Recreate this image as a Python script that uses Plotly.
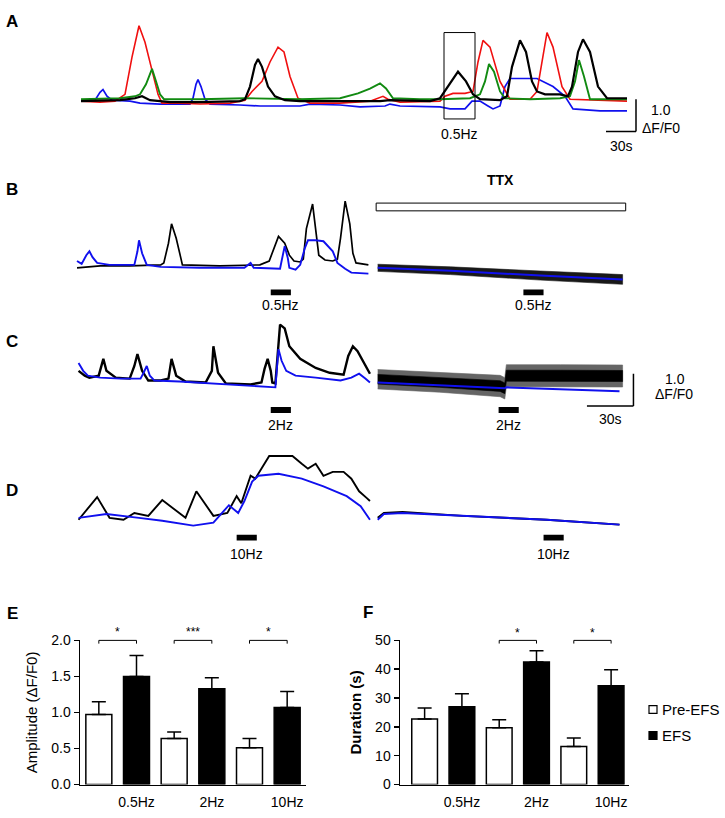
import plotly.graph_objects as go

W, H = 725, 818
FONT = "Liberation Sans, Arial, sans-serif"
BLUE, RED, GREEN, BLACK = "#1010ee", "#f01010", "#118a11", "#000000"

# ---------------- Panel A: spontaneous Ca2+ transients (time s, ΔF/F0) ----------------
a_red_t = [0, 19, 34, 44, 51, 58, 64, 71, 77, 81, 99, 119, 149, 164, 171, 181, 189, 197, 203, 209,
           217, 229, 259, 289, 297, 302, 307, 319, 359, 364, 372, 384, 392, 397, 402, 409, 419, 429, 449, 456,
           461, 466, 472, 481, 489, 519, 546]
a_red_v = [0, -0.03, 0, 0.21, 1.36, 2.33, 1.82, 0.91, 0.21, -0.06, -0.06, -0.09, -0.06, 0.03, 0.30, 0.61, 1.21, 1.67, 1.52, 0.76,
           0.09, -0.06, -0.06, 0, 0.09, 0.15, 0.06, -0.03, 0, 0.15, 0.24, 0.24, 0.30, 1.21, 1.88, 1.67, 0.61, 0.06, 0.06, 0.30,
           1.21, 2.12, 1.67, 0.45, 0.06, 0.03, 0]
a_green_t = [0, 39, 54, 59, 65, 71, 75, 79, 83, 119, 164, 219, 259, 277, 289, 299, 305, 312, 339, 359,
             389, 399, 404, 408, 413, 419, 424, 449, 479, 489, 494, 498, 503, 509, 546]
a_green_v = [0.06, 0.09, 0.15, 0.21, 0.52, 1.0, 0.61, 0.21, 0.06, 0.06, 0.09, 0.06, 0.09, 0.24, 0.39, 0.55, 0.39, 0.09, 0.06, 0.06,
             0.09, 0.21, 0.61, 1.15, 0.91, 0.30, 0.09, 0.06, 0.09, 0.15, 0.61, 1.27, 0.76, 0.06, 0.06]
a_blue_t = [0, 14, 19, 22, 26, 31, 49, 59, 79, 109, 112, 115, 117, 120, 124, 129, 159, 179, 219, 229,
            259, 279, 304, 309, 319, 359, 369, 384, 391, 399, 407, 412, 419, 424, 429, 456, 472, 484, 492, 519, 546]
a_blue_v = [0, 0.03, 0.27, 0.36, 0.15, 0.03, 0, -0.06, -0.09, -0.09, 0.09, 0.52, 0.67, 0.45, 0.06, -0.09, -0.12, -0.15, -0.15, -0.09,
            -0.12, -0.18, -0.15, -0.09, -0.15, -0.18, -0.24, -0.24, 0, 0, -0.15, -0.24, -0.15, 0.45, 0.70, 0.70, 0.45, 0.15, -0.24, -0.30, -0.30]
a_black_t = [0, 39, 54, 61, 69, 89, 119, 159, 164, 169, 174, 177, 181, 187, 194, 204, 219, 299, 309, 349,
             359, 367, 377, 385, 392, 399, 419, 426, 431, 439, 445, 451, 456, 464, 479, 487, 491, 497, 502, 509, 517, 526, 546]
a_black_v = [0, 0.03, 0.09, 0.15, 0.03, -0.03, -0.03, 0, 0.06, 0.45, 1.12, 1.30, 1.06, 0.45, 0.15, 0.03, 0, 0, 0.03, 0,
             0.09, 0.45, 0.91, 0.61, 0.21, 0.06, 0.03, 0.15, 1.06, 1.88, 1.52, 0.61, 0.30, 0.21, 0.21, 0.15, 0.45, 1.52, 1.91, 1.52, 0.45, 0.09, 0.09]
a_stim_t = [363]
a_stim_dur = 31
a_stim_label = "0.5Hz"

# ---------------- Panel B: 0.5 Hz EFS, before / with TTX ----------------
b_black_t = [0, 15, 34, 47, 54, 56, 59, 61, 64, 67, 68, 92, 118, 124, 127, 130, 134, 137, 140, 144,
             146, 148, 152, 154, 156, 160, 165, 168, 170, 173, 176, 178, 180, 188]
b_black_v = [-0.06, 0, 0, 0.03, 0.03, 0.09, 0.70, 1.30, 0.85, 0.24, 0.03, 0, 0.03, 0.15, 0.55, 0.91, 0.70, 0.33, 0.15, 0.12,
             0.21, 1.15, 1.91, 1.15, 0.33, 0.18, 0.15, 0.21, 0.85, 2.0, 1.30, 0.39, 0.09, 0.03]
b_blue_t = [0, 3, 6, 8, 10, 13, 21, 34, 37, 39, 40, 42, 45, 54, 79, 108, 112, 114, 125, 131,
            132, 134, 136, 137, 141, 144, 147, 149, 154, 159, 165, 168, 173, 177, 188]
b_blue_v = [0.15, 0.06, 0.33, 0.45, 0.27, 0.09, 0.03, 0.03, 0.03, 0.45, 0.79, 0.39, 0.03, -0.03, -0.06, -0.06, 0.09, -0.06, -0.09, -0.09,
            0.15, 0.61, 0.24, -0.06, -0.12, 0.03, 0.55, 0.79, 0.79, 0.76, 0.45, 0.09, -0.09, -0.21, -0.24]
b_ttx_t = [194, 241, 299, 352]
b_ttx_blue_v = [-0.06, -0.15, -0.30, -0.42]
b_ttx_black_v = [-0.06, -0.15, -0.30, -0.42]
b_ttx_noise = [0.11, 0.12, 0.14, 0.15]
b_stim_t = [125, 288]
b_stim_label = "0.5Hz"
ttx_period = [193, 354]

# ---------------- Panel C: 2 Hz EFS ----------------
c_black_t = [1, 5, 8, 14, 17, 19, 25, 34, 37, 39, 42, 46, 54, 59, 61, 64, 70, 83, 87, 88,
             91, 96, 112, 119, 121, 123, 125, 126, 128, 130, 131, 134, 137, 144, 154, 163, 172, 175, 178, 181, 185, 189]
c_black_v = [0.21, 0.06, 0, 0.06, 0.58, 0.21, 0, -0.03, 0.36, 0.73, 0.21, -0.09, -0.09, -0.03, 0.58, 0.06, -0.12, -0.15, 0.21, 0.97,
             0.15, -0.18, -0.21, -0.15, 0.27, 0.58, 0.21, -0.15, -0.18, 1.12, 1.64, 1.52, 0.97, 0.58, 0.30, 0.15, 0.09, 0.67, 0.97, 0.82, 0.45, 0.12]
c_blue_t = [1, 4, 7, 15, 28, 41, 43, 45, 47, 50, 66, 86, 105, 128, 130, 132, 135, 141, 154, 170, 177, 182, 186, 189]
c_blue_v = [0.45, 0.21, 0.06, 0, -0.03, -0.03, 0.15, 0.36, 0.06, -0.09, -0.12, -0.18, -0.24, -0.30, 0.88, 0.52, 0.21, 0.06, 0, -0.09, 0, 0.12, -0.03, -0.15]
c_ttx_blue_t = [194, 234, 276, 277, 312, 350]
c_ttx_blue_v = [-0.15, -0.24, -0.33, -0.30, -0.36, -0.42]
c_ttx_black_t = [194, 234, 273, 276, 277, 312, 352]
c_ttx_black_v = [-0.05, -0.15, -0.26, -0.33, 0.06, 0.06, 0.05]
c_ttx_noise = [0.30, 0.30, 0.33, 0.33, 0.34, 0.34, 0.34]
c_stim_t = [125, 272]
c_stim_label = "2Hz"

# ---------------- Panel D: 10 Hz EFS ----------------
d_black_t = [1, 13, 21, 30, 37, 46, 55, 67, 70, 77, 88, 97, 103, 106, 112, 115, 124, 130, 139, 145,
             149, 154, 159, 165, 172, 177, 182, 187, 189]
d_black_v = [-0.06, 0.64, 0, -0.06, 0.15, 0.06, 0.55, 0.09, 0, 0.82, 0.06, 0.15, 0.67, 0.45, 1.30, 1.21, 1.91, 1.91, 1.91, 1.67,
             1.52, 1.67, 1.30, 1.42, 1.42, 1.21, 0.82, 0.61, 0.52]
d_blue_t = [1, 19, 40, 55, 75, 88, 98, 104, 108, 113, 117, 130, 145, 159, 174, 183, 189]
d_blue_v = [0, 0.12, 0, -0.09, -0.24, -0.15, 0.39, 0.15, 0.52, 1.12, 1.30, 1.36, 1.21, 0.97, 0.67, 0.36, -0.06]
d_ttx_t = [194, 198, 210, 249, 303, 350]
d_ttx_black_v = [0, 0.15, 0.18, 0.06, -0.06, -0.21]
d_ttx_blue_v = [-0.06, 0.12, 0.15, 0.06, -0.06, -0.21]
d_stim_t = [103, 301]
d_stim_label = "10Hz"
stim_dur = 13

# ---------------- Panels E, F: summary (mean + SEM) ----------------
categories = ["0.5Hz", "2Hz", "10Hz"]
amp_pre = [0.97, 0.64, 0.51]
amp_pre_sem = [0.18, 0.09, 0.13]
amp_efs = [1.50, 1.33, 1.07]
amp_efs_sem = [0.29, 0.15, 0.22]
amp_sig = ["*", "***", "*"]
dur_pre = [22.7, 19.7, 13.2]
dur_pre_sem = [3.8, 2.8, 2.9]
dur_efs = [27.0, 42.5, 34.3]
dur_efs_sem = [4.5, 3.9, 5.5]
dur_sig = ["", "*", "*"]

# ======================= layout helpers =======================
def ydom(top_px, bottom_px):
    return [1 - bottom_px / H, 1 - top_px / H]


def xdom(left_px, right_px):
    return [left_px / W, right_px / W]


PX_PER_UNIT = 33.0          # 1.0 ΔF/F0 in pixels (trace panels)
A_PX_PER_S = 1.0
BCD_PX_PER_S = 1.55

fig = go.Figure()
shapes, annots = [], []


def line_trace(t, v, color, width, ax):
    fig.add_trace(go.Scatter(x=t, y=v, mode="lines", line=dict(color=color, width=width),
                             xaxis="x" + ax, yaxis="y" + ax, showlegend=False, hoverinfo="skip"))


def noise_band(t, mid, half, color, ax, opacity):
    up = [m + h for m, h in zip(mid, half)]
    lo = [m - h for m, h in zip(mid, half)]
    fig.add_trace(go.Scatter(x=list(t) + list(t[::-1]), y=up + lo[::-1], mode="lines", fill="toself",
                             fillcolor=color, line=dict(width=0.6, color=color), opacity=opacity,
                             xaxis="x" + ax, yaxis="y" + ax, showlegend=False, hoverinfo="skip"))


def txt(x, y, s, xref, yref, size=14, bold=False, xanchor="center"):
    annots.append(dict(x=x, y=y, xref=xref, yref=yref,
                       text=("<b>%s</b>" % s) if bold else s, showarrow=False, xanchor=xanchor, yanchor="middle",
                       font=dict(family=FONT, size=size, color="black")))


# ---- Panel A ----
line_trace(a_blue_t, a_blue_v, BLUE, 1.7, "")
line_trace(a_red_t, a_red_v, RED, 1.6, "")
line_trace(a_green_t, a_green_v, GREEN, 1.9, "")
line_trace(a_black_t, a_black_v, BLACK, 2.2, "")
for t0 in a_stim_t:
    shapes.append(dict(type="rect", xref="x", yref="y", x0=t0, x1=t0 + a_stim_dur, y0=-0.55, y1=2.12,
                       line=dict(color="black", width=1)))
    txt(t0 + a_stim_dur / 2, -1.0, a_stim_label, "x", "y")
# scale bar A
shapes.append(dict(type="line", xref="x", yref="y", x0=525, x1=555, y0=-0.94, y1=-0.94, line=dict(color="black", width=1.5)))
shapes.append(dict(type="line", xref="x", yref="y", x0=555, x1=555, y0=-0.94, y1=0.06, line=dict(color="black", width=1.5)))
txt(580, -0.27, "1.0", "x", "y")
txt(580, -0.82, "ΔF/F0", "x", "y")
txt(540, -1.39, "30s", "x", "y")

# ---- Panel B ----
line_trace(b_black_t, b_black_v, BLACK, 1.7, "2")
line_trace(b_blue_t, b_blue_v, BLUE, 1.9, "2")
noise_band(b_ttx_t, b_ttx_black_v, b_ttx_noise, BLACK, "2", 0.9)
line_trace(b_ttx_t, b_ttx_blue_v, BLUE, 2.0, "2")
shapes.append(dict(type="rect", xref="x2", yref="y2", x0=ttx_period[0], x1=ttx_period[1], y0=1.70, y1=1.94,
                   line=dict(color="black", width=1), fillcolor="white"))
txt((ttx_period[0] + ttx_period[1]) / 2, 2.64, "TTX", "x2", "y2", size=14, bold=True)

# ---- Panel C ----
line_trace(c_black_t, c_black_v, BLACK, 2.4, "3")
line_trace(c_blue_t, c_blue_v, BLUE, 1.9, "3")
noise_band(c_ttx_black_t, c_ttx_black_v, c_ttx_noise, BLACK, "3", 0.6)
noise_band(c_ttx_black_t, c_ttx_black_v, [h * 0.5 for h in c_ttx_noise], BLACK, "3", 1.0)
line_trace(c_ttx_blue_t, c_ttx_blue_v, BLUE, 2.0, "3")
shapes.append(dict(type="line", xref="x3", yref="y3", x0=329, x1=359, y0=-0.88, y1=-0.88, line=dict(color="black", width=1.5)))
shapes.append(dict(type="line", xref="x3", yref="y3", x0=359, x1=359, y0=-0.88, y1=0.12, line=dict(color="black", width=1.5)))
txt(386, -0.03, "1.0", "x3", "y3")
txt(385, -0.52, "ΔF/F0", "x3", "y3")
txt(344, -1.27, "30s", "x3", "y3")

# ---- Panel D ----
line_trace(d_black_t, d_black_v, BLACK, 1.9, "4")
line_trace(d_blue_t, d_blue_v, BLUE, 1.9, "4")
line_trace(d_ttx_t, d_ttx_black_v, BLACK, 1.9, "4")
line_trace(d_ttx_t, d_ttx_blue_v, BLUE, 1.9, "4")

# stimulation bars
for ax, times, lab, y0, y1, ylab in [("2", b_stim_t, b_stim_label, -0.91, -0.73, -1.21),
                                     ("3", c_stim_t, c_stim_label, -1.09, -0.91, -1.45),
                                     ("4", d_stim_t, d_stim_label, -0.70, -0.52, -1.12)]:
    for t0 in times:
        shapes.append(dict(type="rect", xref="x" + ax, yref="y" + ax, x0=t0, x1=t0 + stim_dur, y0=y0, y1=y1,
                           line=dict(width=0), fillcolor="black"))
        txt(t0 + stim_dur / 2, ylab, lab, "x" + ax, "y" + ax)

# ---- Panels E, F: bars ----
xi = list(range(len(categories)))
for ax, pre, pre_e, efs, efs_e in [("5", amp_pre, amp_pre_sem, amp_efs, amp_efs_sem),
                                    ("6", dur_pre, dur_pre_sem, dur_efs, dur_efs_sem)]:
    fig.add_trace(go.Bar(x=[i - 0.25 for i in xi], y=pre, width=0.345, name="Pre-EFS",
                         marker=dict(color="white", line=dict(color="black", width=1.5)),
                         error_y=dict(type="data", symmetric=False, array=pre_e, arrayminus=[0] * 3,
                                      color="black", thickness=1.5, width=7),
                         xaxis="x" + ax, yaxis="y" + ax, showlegend=False, hoverinfo="skip"))
    fig.add_trace(go.Bar(x=[i + 0.25 for i in xi], y=efs, width=0.345, name="EFS",
                         marker=dict(color="black", line=dict(color="black", width=1.5)),
                         error_y=dict(type="data", symmetric=False, array=efs_e, arrayminus=[0] * 3,
                                      color="black", thickness=1.5, width=7),
                         xaxis="x" + ax, yaxis="y" + ax, showlegend=False, hoverinfo="skip"))

# significance brackets (drawn on taller overlay y axes sharing the bar x axes)
for xa, ya, top, sig, drop, lift in [("x5", "y7", 2.0, amp_sig, 0.045, 0.11),
                                      ("x6", "y8", 50.0, dur_sig, 1.1, 2.7)]:
    for i, s in zip(xi, sig):
        if not s:
            continue
        fig.add_trace(go.Scatter(x=[i - 0.25, i - 0.25, i + 0.25, i + 0.25], y=[top - drop, top, top, top - drop],
                                 mode="lines", line=dict(color="black", width=1), xaxis=xa, yaxis=ya,
                                 showlegend=False, hoverinfo="skip"))
        txt(i, top + lift, s, xa, ya, size=12)

# manual legend
for (y0, y1), col, name in [((711.5, 719.5), "white", "Pre-EFS"), ((738, 746), "black", "EFS")]:
    shapes.append(dict(type="rect", xref="paper", yref="paper", x0=649 / W, x1=657 / W,
                       y0=1 - y1 / H, y1=1 - y0 / H, line=dict(color="black", width=1.2), fillcolor=col))
    txt(660 / W, 1 - (y0 + y1) / 2 / H, name, "paper", "paper", size=15, xanchor="left")

# panel letters
for lab, x, y in [("A", 12, 14), ("B", 12, 185), ("C", 12, 340), ("D", 12, 492), ("E", 12, 618), ("F", 368, 617)]:
    txt(x / W, 1 - y / H, lab, "paper", "paper", size=17, bold=True)

hidden = dict(visible=False, showgrid=False, zeroline=False, fixedrange=True)
A_range_x = [-81 / A_PX_PER_S, (W - 81) / A_PX_PER_S]
BCD_range_x = [-77 / BCD_PX_PER_S, (W - 77) / BCD_PX_PER_S]

axis_font = dict(family=FONT, size=14, color="black")
bar_x = dict(showline=True, linecolor="black", linewidth=1.5, ticks="", showgrid=False, zeroline=False,
             tickvals=[i + 0.25 for i in xi], ticktext=categories, tickfont=axis_font, ticklabelstandoff=4)
bar_y = dict(showline=True, linecolor="black", linewidth=1.5, ticks="outside", ticklen=5, tickwidth=1.5,
             tickcolor="black", showgrid=False, zeroline=False, tickfont=axis_font)

fig.update_layout(
    width=W, height=H, margin=dict(l=0, r=0, t=0, b=0),
    paper_bgcolor="white", plot_bgcolor="rgba(0,0,0,0)", font=dict(family=FONT, color="black"),
    showlegend=False, barmode="overlay",
    xaxis=dict(domain=[0, 1], range=A_range_x, anchor="y", **hidden),
    yaxis=dict(domain=ydom(0, 160), range=[(95 - 160) / PX_PER_UNIT, 95 / PX_PER_UNIT], anchor="x", **hidden),
    xaxis2=dict(domain=[0, 1], range=BCD_range_x, anchor="y2", **hidden),
    yaxis2=dict(domain=ydom(160, 315), range=[(263 - 315) / PX_PER_UNIT, (263 - 160) / PX_PER_UNIT], anchor="x2", **hidden),
    xaxis3=dict(domain=[0, 1], range=BCD_range_x, anchor="y3", **hidden),
    yaxis3=dict(domain=ydom(315, 445), range=[(377 - 445) / PX_PER_UNIT, (377 - 315) / PX_PER_UNIT], anchor="x3", **hidden),
    xaxis4=dict(domain=[0, 1], range=BCD_range_x, anchor="y4", **hidden),
    yaxis4=dict(domain=ydom(445, 580), range=[(520 - 580) / PX_PER_UNIT, (520 - 445) / PX_PER_UNIT], anchor="x4", **hidden),
    xaxis5=dict(domain=xdom(80, 306), range=[-0.5, 2.5], anchor="y5", **bar_x),
    yaxis5=dict(domain=ydom(645, 792), range=[0, 2.0], anchor="x5", tickvals=[0, 0.5, 1.0, 1.5, 2.0],
                ticktext=["0.0", "0.5", "1.0", "1.5", "2.0"],
                title=dict(text="Amplitude (ΔF/F0)", font=dict(family=FONT, size=15), standoff=10), **bar_y),
    xaxis6=dict(domain=xdom(400, 629), range=[-0.58, 2.49], anchor="y6", **bar_x),
    yaxis6=dict(domain=ydom(645, 792), range=[0, 50], anchor="x6", tickvals=[0, 10, 20, 30, 40, 50],
                title=dict(text="<b>Duration (s)</b>", font=dict(family=FONT, size=15), standoff=10), **bar_y),
    yaxis7=dict(domain=ydom(792 - 2.3 * 73.5, 792), range=[0, 2.3], anchor="x5", **hidden),
    yaxis8=dict(domain=ydom(792 - 57.5 * 2.94, 792), range=[0, 57.5], anchor="x6", **hidden),
    shapes=shapes, annotations=annots,
)

fig.write_html("out.html", config={"displayModeBar": False, "staticPlot": True},
               post_script="document.body.style.margin='0px';")
